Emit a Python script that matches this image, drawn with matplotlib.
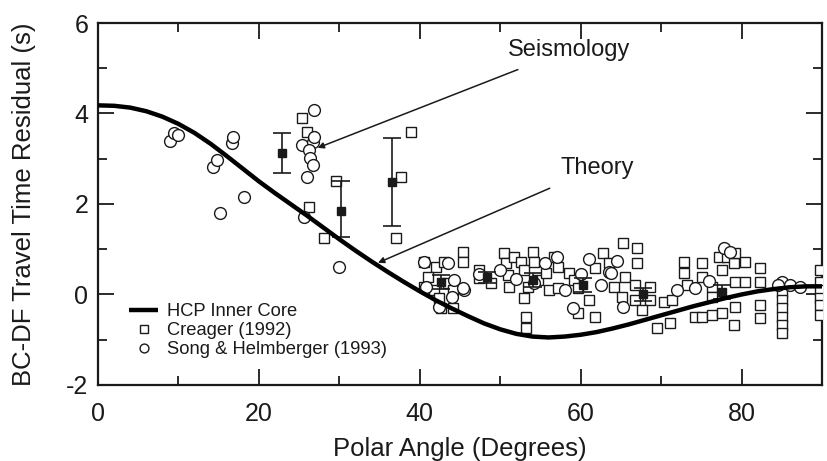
import matplotlib
matplotlib.use("Agg")
import matplotlib.pyplot as plt
from matplotlib.ticker import MultipleLocator

plt.rcParams['font.family'] = ['Liberation Sans', 'DejaVu Sans']
plt.rcParams['axes.unicode_minus'] = False

# Theoretical residual for an HCP inner core
theory_x = [0, 2, 4, 6, 8, 10, 12, 14, 16, 18, 20, 22, 24, 26, 28, 30, 32, 34, 36, 38, 40,
            42, 44, 46, 48, 50, 52, 54, 56, 58, 60, 62, 64, 66, 68, 70, 72, 74, 76, 78, 80,
            82, 84, 86, 88, 90]
theory_y = [4.18, 4.17, 4.13, 4.05, 3.93, 3.77, 3.57, 3.33, 3.06, 2.78, 2.50, 2.24, 1.99,
            1.74, 1.48, 1.22, 0.97, 0.73, 0.50, 0.28, 0.07, -0.13, -0.31, -0.48, -0.64,
            -0.77, -0.87, -0.93, -0.95, -0.93, -0.89, -0.83, -0.75, -0.66, -0.56, -0.46,
            -0.36, -0.26, -0.17, -0.08, 0.00, 0.07, 0.12, 0.16, 0.18, 0.18]

# Creager (1992) observations
creager_x = [25.4, 26.0, 26.2, 28.1, 29.6, 38.9, 37.7, 37.0,
             40.5, 42.0, 43.0, 41.0, 40.5, 41.8, 43.5, 44.1, 42.4, 42.6, 44.1,
             45.4, 45.4, 47.3, 47.3, 48.9, 50.5, 50.7, 51.7, 51.0, 51.1,
             52.6, 53.0, 54.1, 54.2, 53.5, 53.0, 53.2, 53.2, 54.7, 55.7,
             56.0, 56.7, 57.2, 57.2, 58.5, 59.2, 59.7, 59.7, 61.8, 61.0, 61.8,
             62.8, 63.5, 64.2, 65.1, 65.3, 67.0, 67.0, 65.5, 66.7, 68.6, 68.6,
             66.7, 67.6, 69.5, 71.1, 70.3, 71.3, 72.9, 72.9, 73.2, 75.1, 75.1,
             76.3, 76.3, 74.2, 75.1, 76.3, 77.6, 77.2, 78.2, 77.6, 79.1, 79.2,
             79.2, 80.4, 80.4, 79.2, 79.1, 82.3, 82.3, 82.3, 82.3,
             85.0, 85.0, 85.0, 85.0, 85.0, 85.0,
             89.8, 89.8, 89.8, 89.8, 89.8, 89.8]
creager_y = [3.90, 3.60, 1.94, 1.25, 2.50, 3.60, 2.60, 1.25,
             0.72, 0.61, 0.72, 0.39, 0.17, 0.10, 0.25, 0.10, -0.08, -0.30, -0.30,
             0.94, 0.72, 0.54, 0.36, 0.25, 0.91, 0.70, 0.83, 0.43, 0.17,
             0.72, 0.54, 0.94, 0.72, 0.17, -0.08, -0.50, -0.74, 0.32, 0.47,
             0.10, 0.83, 0.61, 0.14, 0.47, 0.32, 0.14, -0.41, 0.58, -0.12, -0.50,
             0.91, 0.70, 0.17, -0.06, 1.14, 1.03, 0.70, 0.39, 0.21, 0.17, -0.12,
             -0.12, -0.34, -0.74, -0.64, -0.17, -0.12, 0.72, 0.47, 0.21, 0.70, 0.39,
             0.17, -0.06, -0.50, -0.50, -0.45, -0.41, 0.83, 0.83, 0.54, 0.70, 0.91,
             0.28, 0.72, 0.28, -0.27, -0.67, 0.58, 0.28, -0.23, -0.52,
             0.06, -0.12, -0.30, -0.50, -0.67, -0.85,
             0.54, 0.28, 0.10, -0.08, -0.23, -0.45]

# Song & Helmberger (1993) observations
song_x = [9.0, 9.5, 10.0, 14.3, 14.8, 16.7, 16.8, 18.1, 15.1, 29.9,
          26.8, 25.4, 26.7, 26.2, 26.4, 26.7, 26.0, 26.8, 25.6,
          40.5, 43.5, 40.8, 44.3, 45.5, 42.4, 45.4, 47.3, 44.0,
          50.0, 52.0, 54.2, 55.5, 57.0, 58.0, 59.1, 61.0, 60.0, 62.5, 63.5, 63.8, 65.3, 64.5,
          72.0, 74.2, 77.8, 78.5, 76.0, 85.0, 86.0, 87.2, 84.5]
song_y = [3.40, 3.58, 3.52, 2.82, 2.97, 3.35, 3.48, 2.16, 1.80, 0.61,
          4.08, 3.30, 3.37, 3.19, 3.01, 2.86, 2.60, 3.48, 1.72,
          0.72, 0.70, 0.17, 0.32, 0.10, -0.27, 0.14, 0.45, -0.05,
          0.55, 0.35, 0.25, 0.70, 0.83, 0.10, -0.30, 0.78, 0.45, 0.20, 0.50, 0.47, -0.27, 0.75,
          0.10, 0.14, 1.03, 0.95, 0.30, 0.28, 0.21, 0.17, 0.20]

# Binned seismological means with error bars
bin_x = [22.9, 30.2, 36.5, 42.6, 48.3, 54.1, 60.3, 67.8, 77.6]
bin_y = [3.12, 1.85, 2.49, 0.27, 0.38, 0.32, 0.21, 0.00, 0.06]
bin_err_lo = [0.44, 0.58, 0.98, 0.15, 0.12, 0.15, 0.15, 0.15, 0.15]
bin_err_hi = [0.45, 0.65, 0.97, 0.15, 0.12, 0.15, 0.15, 0.15, 0.15]

ink = '#1a1a1a'

fig = plt.figure(figsize=(8.28, 4.61), dpi=100)
ax = fig.add_axes([0.1184, 0.1649, 0.8744, 0.7852])

ax.plot(creager_x, creager_y, linestyle='none', marker='s', markersize=7,
        markerfacecolor='white', markeredgecolor=ink, markeredgewidth=1.0,
        label='Creager (1992)', zorder=3)
ax.plot(song_x, song_y, linestyle='none', marker='o', markersize=8.5,
        markerfacecolor='white', markeredgecolor=ink, markeredgewidth=1.0,
        label='Song & Helmberger (1993)', zorder=3)
ax.errorbar(bin_x, bin_y, yerr=[bin_err_lo, bin_err_hi], fmt='s', markersize=6,
            color=ink, ecolor=ink, elinewidth=1.2, capsize=6.5, capthick=1.2, zorder=4)
ax.plot(theory_x, theory_y, color='black', linewidth=3.2,
        label='HCP Inner Core', zorder=5, solid_capstyle='butt')

ax.annotate('Seismology', xy=(27.3, 3.24), xytext=(58.5, 5.41),
            fontsize=17, color=ink, ha='center', va='center',
            arrowprops=dict(arrowstyle='-|>', color=ink, lw=1.1,
                            mutation_scale=9, shrinkA=12, shrinkB=0))
ax.annotate('Theory', xy=(34.8, 0.70), xytext=(62.0, 2.80),
            fontsize=17, color=ink, ha='center', va='center',
            arrowprops=dict(arrowstyle='-|>', color=ink, lw=1.1,
                            mutation_scale=9, shrinkA=12, shrinkB=0))

ax.set_xlim(0, 90)
ax.set_ylim(-2, 6)
ax.xaxis.set_major_locator(MultipleLocator(20))
ax.xaxis.set_minor_locator(MultipleLocator(10))
ax.yaxis.set_major_locator(MultipleLocator(2))
ax.yaxis.set_minor_locator(MultipleLocator(1))
ax.tick_params(which='both', direction='in', top=True, right=True,
               colors=ink, width=1.3)
ax.tick_params(which='major', length=11.5, labelsize=18, pad=7)
ax.tick_params(axis='x', which='major', pad=12)
ax.tick_params(which='minor', length=6.5)
for s in ax.spines.values():
    s.set_linewidth(1.6)
    s.set_color(ink)

ax.set_xlabel('Polar Angle (Degrees)', fontsize=18.5, color=ink, labelpad=8)
ax.set_ylabel('BC-DF Travel Time Residual (s)', fontsize=18.5, color=ink, labelpad=22)

handles, labels = ax.get_legend_handles_labels()
order = [labels.index('HCP Inner Core'), labels.index('Creager (1992)'),
         labels.index('Song & Helmberger (1993)')]
leg = ax.legend([handles[i] for i in order], [labels[i] for i in order],
                loc='upper left', bbox_to_anchor=(0.025, 0.262), frameon=False,
                fontsize=13.2, labelspacing=0.12, handlelength=1.6,
                handletextpad=0.45, borderpad=0.2, markerscale=0.75)
for t in leg.get_texts():
    t.set_color(ink)

fig.savefig('out.png', dpi=100)
